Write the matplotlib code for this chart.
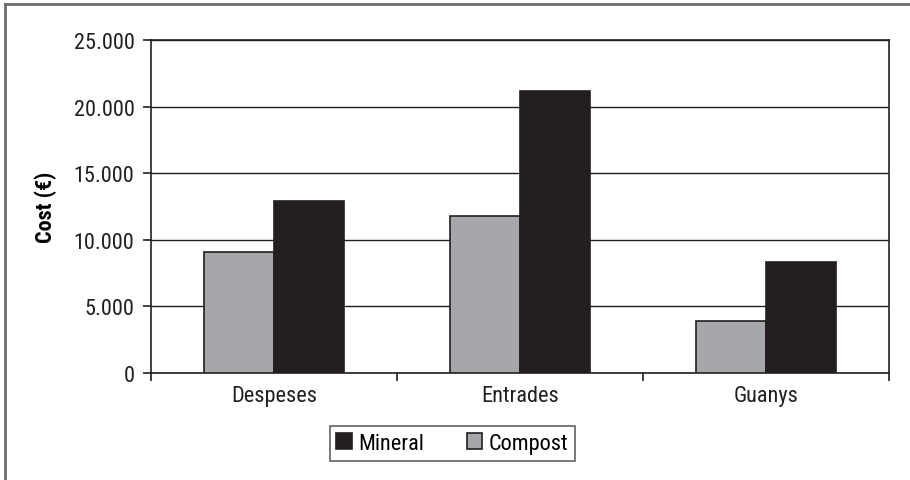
import matplotlib.pyplot as plt
import matplotlib.lines as mlines
import numpy as np

categories = ['Despeses', 'Entrades', 'Guanys']
compost = [9050, 11800, 3880]
mineral = [12900, 21180, 8300]
yticks = [0, 5000, 10000, 15000, 20000, 25000]
ytick_labels = ['0', '5.000', '10.000', '15.000', '20.000', '25.000']

plt.rcParams['font.family'] = ['Roboto Condensed', 'Liberation Sans Narrow',
                               'Liberation Sans', 'DejaVu Sans']
fs = 16

fig = plt.figure(figsize=(9.1, 4.81), dpi=100)
ax = fig.add_axes([0.166, 0.2225, 0.811, 0.6925])

x = np.arange(len(categories))
w = 0.2857
ax.bar(x - w / 2, compost, w, color='#a6a7aa', edgecolor='#231f20',
       linewidth=1.2, label='Compost', zorder=3)
ax.bar(x + w / 2, mineral, w, color='#231f20', edgecolor='#231f20',
       linewidth=1.2, label='Mineral', zorder=3)

ax.set_xlim(-0.5, 2.5)
ax.set_ylim(0, 25000)
ax.set_yticks(yticks)
ax.set_yticklabels(ytick_labels, fontsize=fs, color='#231f20')
ax.yaxis.grid(True, color='#231f20', linewidth=1.0, zorder=0)
ax.set_axisbelow(True)

# categories between tick marks
ax.set_xticks([-0.5, 0.5, 1.5, 2.5])
ax.set_xticklabels([])
ax.set_xticks(x, minor=True)
ax.set_xticklabels(categories, minor=True, fontsize=fs, color='#231f20')
ax.tick_params(axis='x', which='minor', length=0, pad=9)
ax.tick_params(axis='x', which='major', length=6, width=1.2, color='#231f20')
ax.tick_params(axis='y', length=6, width=1.2, color='#231f20', pad=6)

for s in ['left', 'right', 'bottom', 'top']:
    ax.spines[s].set_color('#231f20')
    ax.spines[s].set_linewidth(1.2)

ax.set_ylabel('Cost (€)', fontsize=fs, fontweight='bold', labelpad=12)

handles, labels = ax.get_legend_handles_labels()
leg = fig.legend(handles[::-1], labels[::-1], loc='center', ncol=2,
                 bbox_to_anchor=(0.497, 0.076), fontsize=fs, frameon=True,
                 fancybox=False, edgecolor='#3a3a3c', handlelength=0.7,
                 handleheight=0.7, columnspacing=1.9, handletextpad=0.3,
                 borderpad=0.3, borderaxespad=0)
leg.get_frame().set_linewidth(1.2)

# outer frame (top and left only)
fig.add_artist(mlines.Line2D([0.006, 1.0], [0.99, 0.99], color='#6d6e70',
                             linewidth=2.0, transform=fig.transFigure))
fig.add_artist(mlines.Line2D([0.006, 0.006], [0.0, 0.99], color='#6d6e70',
                             linewidth=2.0, transform=fig.transFigure))

fig.savefig('out.png', dpi=100)
